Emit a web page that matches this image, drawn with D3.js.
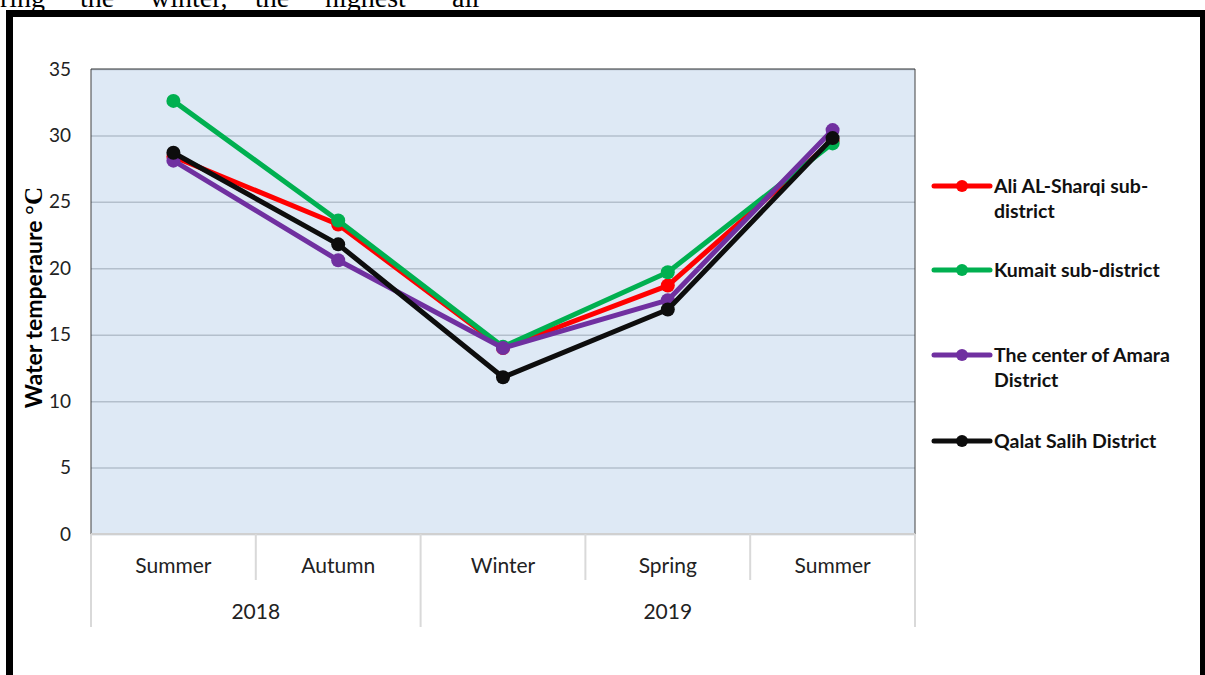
<!DOCTYPE html>
<html>
<head>
<meta charset="utf-8">
<script src="https://cdn.jsdelivr.net/npm/d3@7"></script>
<style>
	body { margin: 0; background: #fff; }
	svg { display: block; }
	.tick text { font-family: Lato, "Open Sans", sans-serif; }
</style>
</head>
<body>
<svg id="chart"></svg>
<script>
/*
	Data
*/
const seasons = ['Summer', 'Autumn', 'Winter', 'Spring', 'Summer']
const years = [{label: '2018', from: 0, to: 2}, {label: '2019', from: 2, to: 5}]
const yTicks = [0, 5, 10, 15, 20, 25, 30, 35]

const aliSharqi = [28.4, 23.3, 14.0, 18.7, 29.6]
const kumait = [32.6, 23.6, 14.1, 19.7, 29.4]
const amaraCenter = [28.1, 20.6, 14.0, 17.6, 30.4]
const qalatSalih = [28.7, 21.8, 11.8, 16.9, 29.8]

const series = [
	{name: ['Ali AL-Sharqi sub-', 'district'], values: aliSharqi, color: '#ff0000'},
	{name: ['Kumait sub-district'], values: kumait, color: '#00b050'},
	{name: ['The center of Amara', 'District'], values: amaraCenter, color: '#7030a0'},
	{name: ['Qalat Salih District'], values: qalatSalih, color: '#0d0d0d'}
]

/*
	Drawing constants
*/
const [width, height] = [1205, 675]
const plot = {left: 91, right: 915, top: 69, bottom: 534}
const font = 'Lato, "Open Sans", sans-serif'

const svg = d3.select('#chart').attr('width', width).attr('height', height)

// paragraph text cut off by the top of the picture
const topWords = [['ring', 0], ['the', 80], ['winter,', 150], ['the', 255], ['highest', 325], ['air', 452]]
svg.append('g').selectAll('text').data(topWords).join('text')
	.attr('x', d => d[1]).attr('y', 7)
	.attr('font-family', '"Liberation Serif", serif').attr('font-size', 28)
	.text(d => d[0])

// outer frame
svg.append('path')
	.attr('d', `M9.5,${height + 5} V13.5 H1203.5 V${height + 5}`)
	.attr('fill', 'none').attr('stroke', '#000').attr('stroke-width', 7)

/*
	Scales
*/
const x = d3.scaleBand().domain(d3.range(seasons.length)).range([plot.left, plot.right])
const y = d3.scaleLinear().domain([0, 35]).range([plot.bottom, plot.top])

svg.append('rect')
	.attr('x', plot.left).attr('y', plot.top)
	.attr('width', plot.right - plot.left).attr('height', plot.bottom - plot.top)
	.attr('fill', '#dee9f5')

// gridlines
const yGrid = d3.axisLeft(y).tickValues(yTicks).tickSize(-(plot.right - plot.left)).tickFormat('')
svg.append('g').attr('transform', `translate(${plot.left},0)`).call(yGrid)
	.call(g => g.select('.domain').remove())
	.call(g => g.selectAll('line').attr('stroke', '#b3bfcc').attr('stroke-width', 1.5))

// plot border (top, left, right dark; bottom light)
svg.append('path')
	.attr('d', `M${plot.left},${plot.bottom} V${plot.top} H${plot.right} V${plot.bottom}`)
	.attr('fill', 'none').attr('stroke', '#404040').attr('stroke-width', 1)
svg.append('line')
	.attr('x1', plot.left).attr('x2', plot.right).attr('y1', plot.bottom).attr('y2', plot.bottom)
	.attr('stroke', '#d0d0d0').attr('stroke-width', 2)

// y axis labels
const yAxis = d3.axisLeft(y).tickValues(yTicks).tickSize(0).tickPadding(20)
svg.append('g').attr('transform', `translate(${plot.left},0)`).call(yAxis)
	.call(g => g.select('.domain').remove())
	.call(g => g.selectAll('text').attr('font-size', 19).attr('fill', '#222'))

const yTitle = svg.append('text')
	.attr('transform', `translate(42,${(plot.top + plot.bottom) / 2 - 4}) rotate(-90)`)
	.attr('text-anchor', 'middle')
	.attr('font-family', font).attr('font-weight', 'bold').attr('font-size', 23)
yTitle.append('tspan').text('Water temperaure ')
yTitle.append('tspan').attr('font-family', '"Liberation Serif", serif').attr('font-size', 25).text('°C')

/*
	Two level category axis
*/
const seasonY = 566, yearY = 612
const catAxis = svg.append('g')
catAxis.selectAll('.season').data(seasons).join('text')
	.attr('x', (d, i) => x(i) + x.bandwidth() / 2).attr('y', seasonY + 7)
	.attr('text-anchor', 'middle')
	.attr('font-family', font).attr('font-size', 21).attr('fill', '#222')
	.text(d => d)
catAxis.selectAll('.year').data(years).join('text')
	.attr('x', d => (x(d.from) + x(d.to - 1) + x.bandwidth()) / 2).attr('y', yearY + 7)
	.attr('text-anchor', 'middle')
	.attr('font-family', font).attr('font-size', 21).attr('fill', '#222')
	.text(d => d.label)

const yearEdges = [years[0].from, years[1].from, years[1].to]
const seasonEdges = d3.range(seasons.length).filter(i => !yearEdges.includes(i))
const edgeX = i => i >= seasons.length ? plot.right : x(i)
catAxis.selectAll('.sep-short').data(seasonEdges).join('line')
	.attr('x1', edgeX).attr('x2', edgeX).attr('y1', plot.bottom).attr('y2', 580)
	.attr('stroke', '#d9d9d9').attr('stroke-width', 2)
catAxis.selectAll('.sep-long').data(yearEdges).join('line')
	.attr('x1', edgeX).attr('x2', edgeX).attr('y1', plot.bottom).attr('y2', 627)
	.attr('stroke', '#d9d9d9').attr('stroke-width', 2)

/*
	Lines and markers
*/
const cx = i => x(i) + x.bandwidth() / 2
const line = d3.line().x((d, i) => cx(i)).y(d => y(d))

const seriesG = svg.append('g').selectAll('g').data(series).join('g')
seriesG.append('path')
	.attr('d', d => line(d.values))
	.attr('fill', 'none').attr('stroke', d => d.color)
	.attr('stroke-width', 5).attr('stroke-linejoin', 'round')
seriesG.selectAll('circle').data(d => d.values.map(v => ({v, color: d.color}))).join('circle')
	.attr('cx', (d, i) => cx(i)).attr('cy', d => y(d.v))
	.attr('r', 7).attr('fill', d => d.color)

/*
	Legend
*/
const legendY = [186, 270, 355, 441]
const legend = svg.append('g').selectAll('g').data(series).join('g')
	.attr('transform', (d, i) => `translate(934,${legendY[i]})`)
legend.append('line')
	.attr('x1', 0).attr('x2', 56).attr('stroke', d => d.color)
	.attr('stroke-width', 5).attr('stroke-linecap', 'round')
legend.append('circle').attr('cx', 28).attr('r', 6).attr('fill', d => d.color)
legend.append('text')
	.attr('x', 60).attr('y', 7)
	.attr('font-family', font).attr('font-weight', 'bold').attr('font-size', 19.5).attr('fill', '#111')
	.selectAll('tspan').data(d => d.name).join('tspan')
	.attr('x', 60).attr('dy', (d, i) => i === 0 ? 0 : 25)
	.text(d => d)
</script>
</body>
</html>
